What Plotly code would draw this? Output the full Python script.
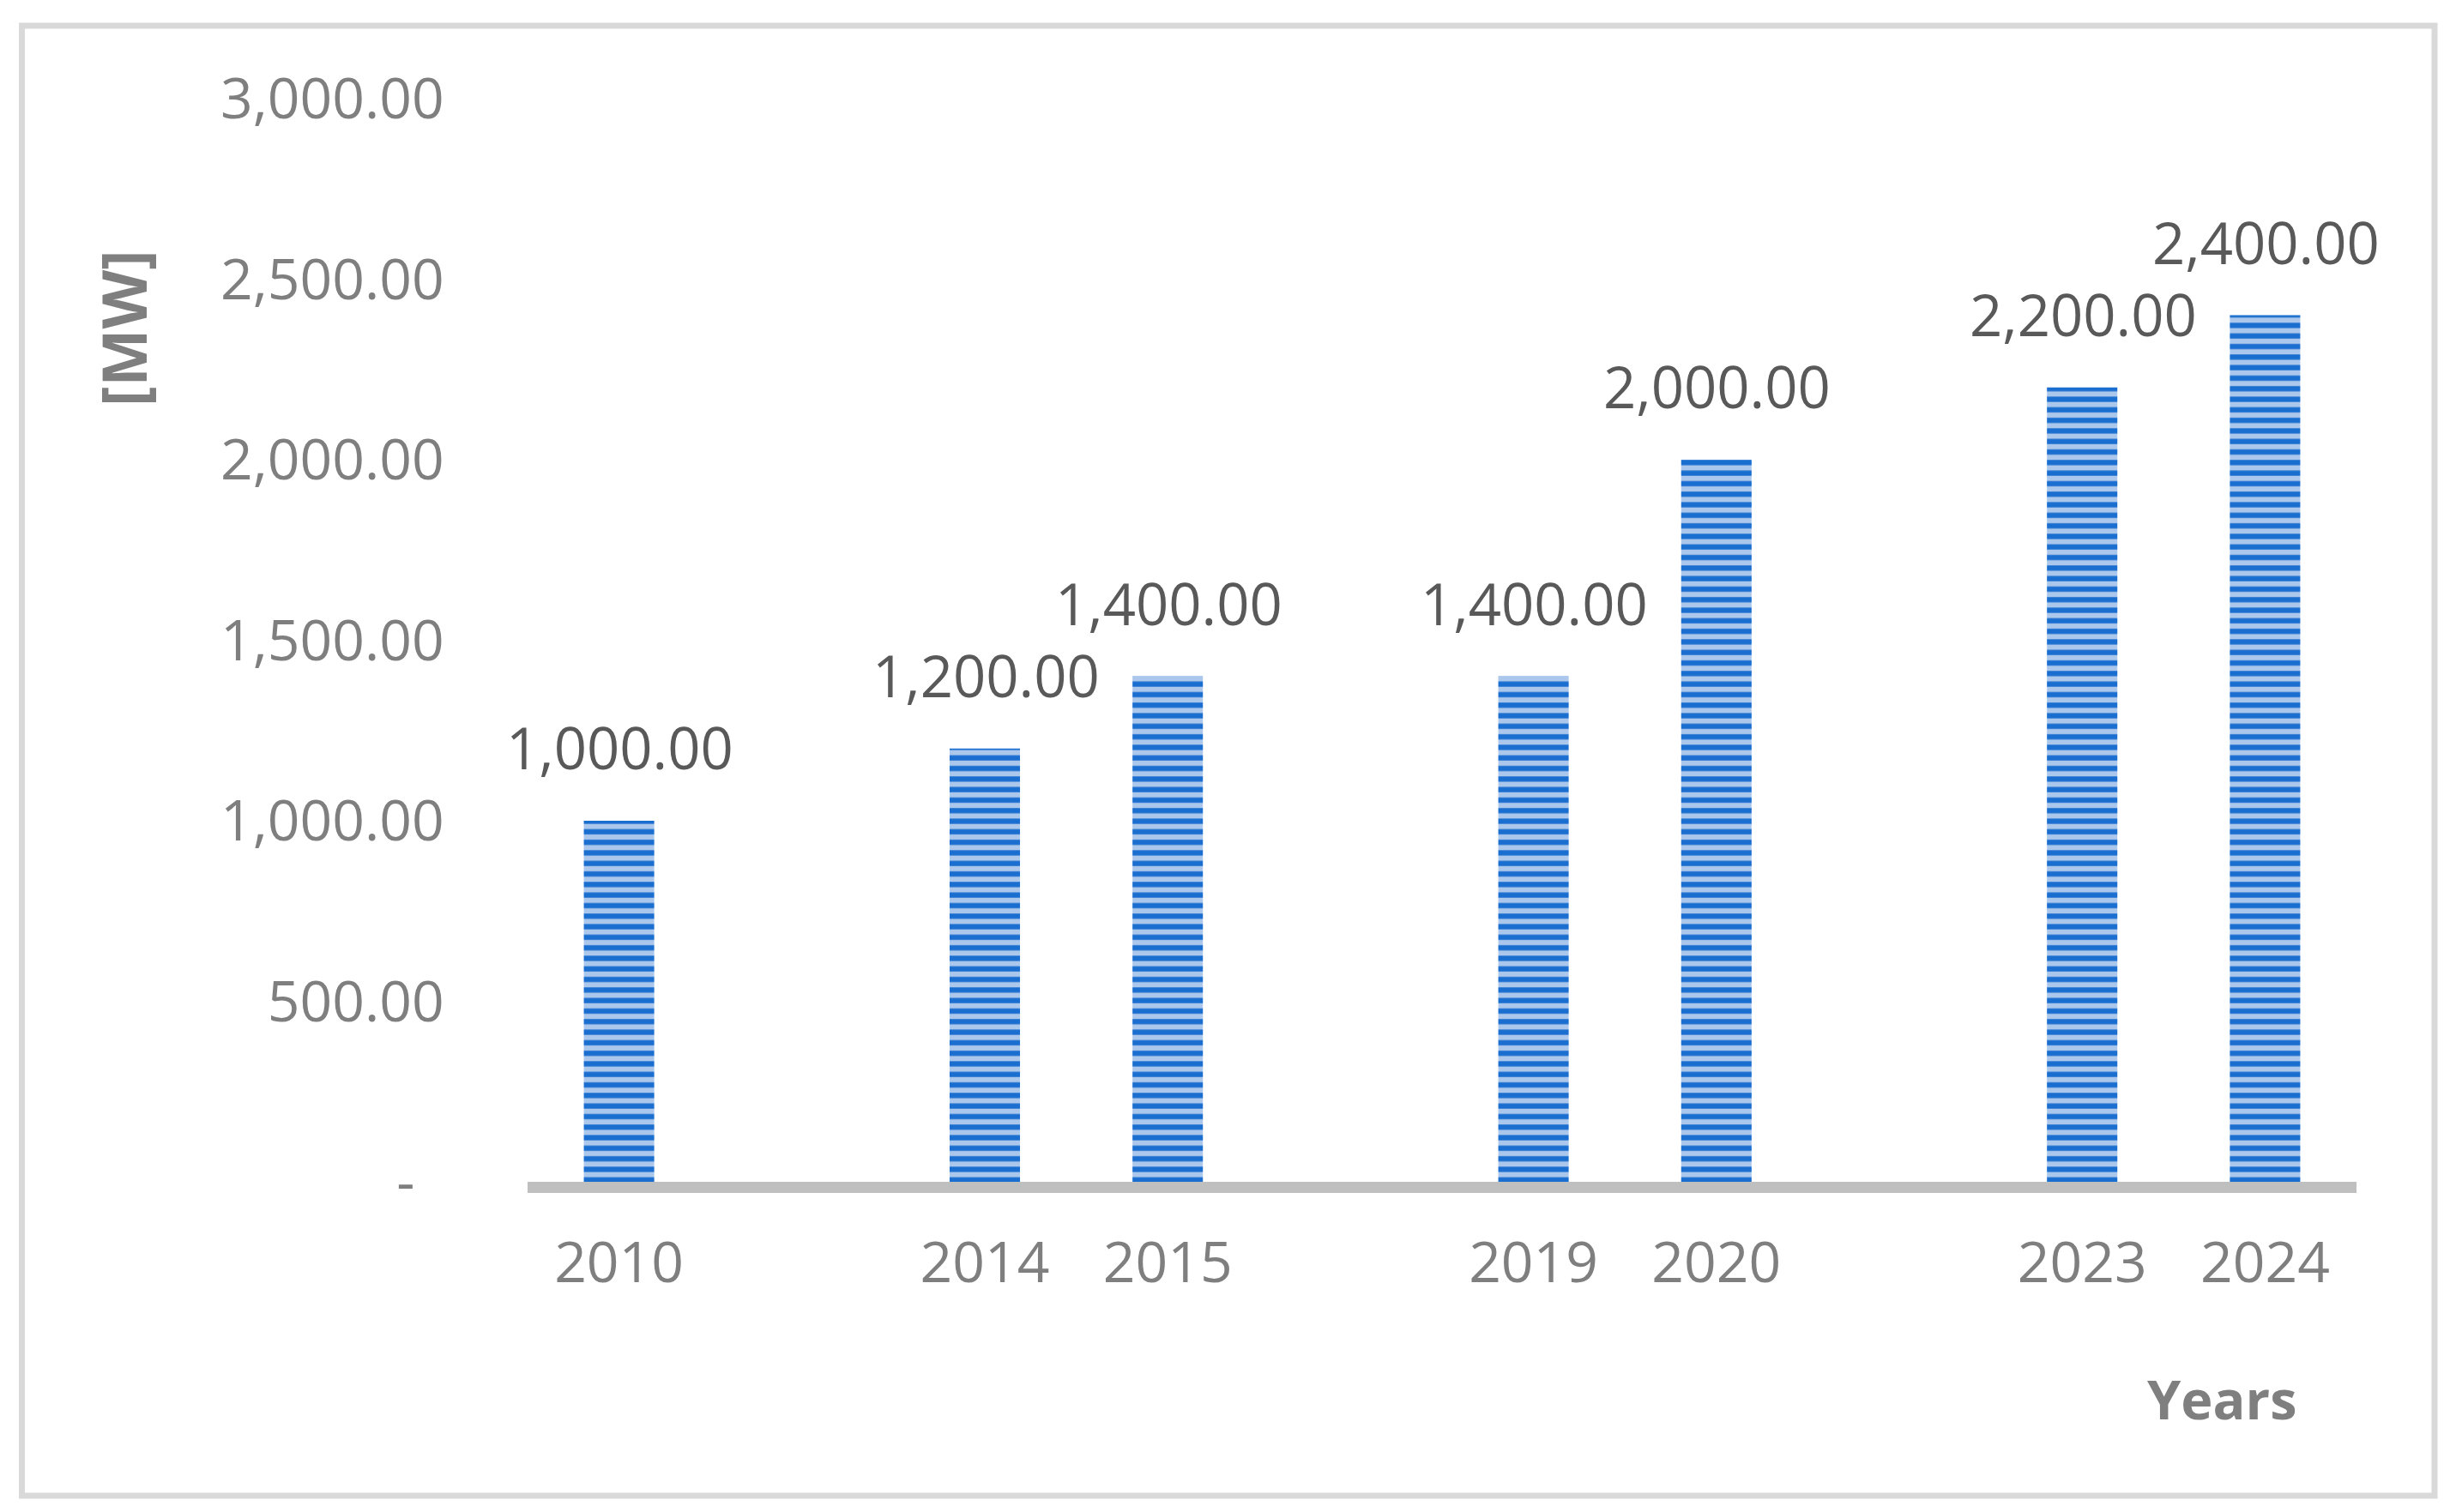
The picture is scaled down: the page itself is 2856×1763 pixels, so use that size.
import plotly.graph_objects as go

# Category axis as in the source chart (blank categories between year groups)
axis_categories = ["2010", " ", "2014", "2015", "  ", "2019", "2020", "   ", "2023", "2024"]
years = ["2010", "2014", "2015", "2019", "2020", "2023", "2024"]
capacity_mw = [1000, 1200, 1400, 1400, 2000, 2200, 2400]
y_tick_vals = [0, 500, 1000, 1500, 2000, 2500, 3000]
y_tick_text = ["-\u00a0\u00a0", "500.00", "1,000.00", "1,500.00", "2,000.00", "2,500.00", "3,000.00"]

W, H = 2856, 1763
L, R, T, B = 607, 2739, 107, 1370
pw, ph = R - L, B - T

def px_x(p):
    return (p - L) / pw

def px_y(p):
    return (B - p) / ph

FONT = "Open Sans"
GRAY = "#7f7f7f"

fig = go.Figure()
fig.add_trace(go.Bar(
    x=years, y=capacity_mw, width=0.385,
    marker=dict(
        color="#abc7eb",
        line=dict(width=0),
        pattern=dict(shape="-", size=12.3, solidity=0.5, fgcolor="#1a6ecf", bgcolor="#abc7eb", fillmode="replace"),
    ),
    hoverinfo="skip",
))

for yr, v in zip(years, capacity_mw):
    fig.add_annotation(
        x=axis_categories.index(yr), y=v, xref="x", yref="y", text=f"{v:,.2f}", showarrow=False,
        yanchor="middle", xanchor="center", yshift=86, xshift=1,
        font=dict(family=FONT, size=67, color="#595959"),
    )

fig.add_annotation(
    x=px_x(2582), y=px_y(1622), xref="paper", yref="paper", text="<b>Years</b>",
    showarrow=False, xanchor="center", yanchor="middle",
    font=dict(family=FONT, size=63, color=GRAY),
)
fig.add_annotation(
    x=px_x(136), y=px_y(375), xref="paper", yref="paper", text="<b>[MW]</b>",
    showarrow=False, xanchor="center", yanchor="middle", textangle=-90,
    font=dict(family=FONT, size=71, color=GRAY),
)

fig.add_shape(
    type="rect", xref="paper", yref="paper",
    x0=px_x(17.5), x1=px_x(2830), y0=px_y(1736), y1=px_y(22),
    line=dict(color="#d9d9d9", width=7), fillcolor="rgba(0,0,0,0)", layer="below",
)

fig.update_layout(
    width=W, height=H,
    margin=dict(l=L, r=W - R, t=T, b=H - B, pad=0),
    paper_bgcolor="white", plot_bgcolor="white",
    showlegend=False,
    font=dict(family=FONT, size=66, color=GRAY),
    xaxis=dict(
        type="category", categoryorder="array", categoryarray=axis_categories,
        range=[-0.5, len(axis_categories) - 0.5],
        showgrid=False, zeroline=False,
        showline=True, linecolor="#bfbfbf", linewidth=13,
        ticks="outside", ticklen=25, tickcolor="rgba(0,0,0,0)",
        tickangle=0,
        tickfont=dict(family=FONT, size=66, color=GRAY),
    ),
    yaxis=dict(
        range=[0, 3000],
        tickmode="array", tickvals=y_tick_vals, ticktext=y_tick_text,
        showgrid=False, zeroline=False, showline=False,
        ticks="outside", ticklen=83, tickcolor="rgba(0,0,0,0)",
        tickfont=dict(family=FONT, size=66, color=GRAY),
    ),
)

fig.write_html("out.html")
